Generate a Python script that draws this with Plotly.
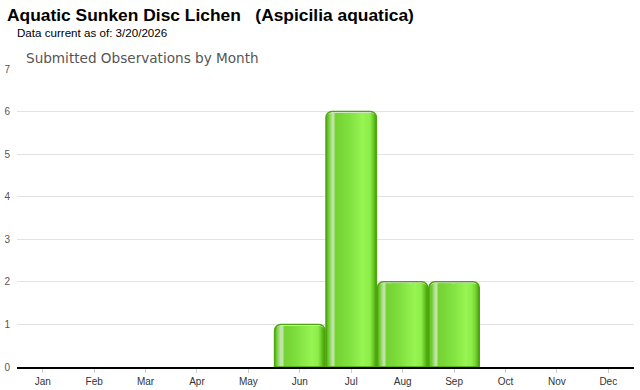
import numpy as np
import plotly.graph_objects as go

months = ["Jan", "Feb", "Mar", "Apr", "May", "Jun", "Jul", "Aug", "Sep", "Oct", "Nov", "Dec"]
counts = [0, 0, 0, 0, 0, 1, 6, 2, 2, 0, 0, 0]
y_ticks = [0, 1, 2, 3, 4, 5, 6, 7]

title_text = "Aquatic Sunken Disc Lichen\u00a0\u00a0\u00a0(Aspicilia aquatica)"
subtitle_text = "Data current as of: 3/20/2026"
chart_label = "Submitted Observations by Month"

# --- styling for the gradient look of the bars ---
W, H = 640, 390
M = dict(l=17, r=6, t=69, b=23)
plot_w = W - M["l"] - M["r"]
plot_h = H - M["t"] - M["b"]
ymax = 7
px_per_unit = plot_h / ymax
bar_w = 0.98
bar_px = plot_w / len(months) * bar_w
radius = 6
border = 1.5

stops = [
    (0.00, (0x52, 0xaf, 0x12)),
    (0.05, (0x6a, 0xcb, 0x28)),
    (0.10, (0xa0, 0xd8, 0x7c)),
    (0.15, (0xc8, 0xe9, 0xb2)),
    (0.20, (0x74, 0xd2, 0x32)),
    (0.45, (0x7f, 0xdf, 0x3e)),
    (0.75, (0x98, 0xf5, 0x53)),
    (0.88, (0x8c, 0xec, 0x48)),
    (0.96, (0x60, 0xbf, 0x1c)),
    (1.00, (0x4c, 0xa5, 0x0e)),
]
sx = np.array([s[0] for s in stops])
sc = np.array([s[1] for s in stops], dtype=float)

def color_at(f):
    r = np.interp(f, sx, sc[:, 0])
    g = np.interp(f, sx, sc[:, 1])
    b = np.interp(f, sx, sc[:, 2])
    return "rgb(%d,%d,%d)" % (round(r), round(g), round(b))

fig = go.Figure()

N = 48
sw = bar_w / N
for i in range(N):
    f = (i + 0.5) / N
    d_px = min(f, 1 - f) * bar_px
    drop_px = border
    if d_px < radius:
        drop_px += radius - np.sqrt(radius ** 2 - (radius - d_px) ** 2)
    drop = drop_px / px_per_unit
    ys = [max(c - drop, 0) if c > 0 else None for c in counts]
    fig.add_trace(go.Bar(
        x=months, y=ys,
        width=sw * 1.15, offset=-bar_w / 2 + i * sw,
        marker=dict(color=color_at(f), line=dict(width=0)),
        hoverinfo="skip", showlegend=False,
    ))

fig.add_trace(go.Bar(
    x=months, y=[c if c > 0 else None for c in counts],
    width=bar_w, offset=-bar_w / 2,
    marker=dict(color="rgba(0,0,0,0)", line=dict(color="#4ea50f", width=border),
                cornerradius=radius),
    showlegend=False, name="Observations",
))

fig.update_layout(
    width=W, height=H,
    margin=M,
    barmode="overlay",
    plot_bgcolor="white", paper_bgcolor="white",
    font=dict(family="Liberation Sans, Arial, sans-serif", color="#333"),
    xaxis=dict(
        type="category", categoryorder="array", categoryarray=months,
        showgrid=False, showline=True, linecolor="#000", linewidth=1.5,
        ticks="outside", ticklen=4, tickcolor="#cccccc",
        tickfont=dict(size=10, color="#333"),
        range=[-0.5, 11.5], automargin=False,
    ),
    yaxis=dict(
        range=[0, ymax], tickvals=y_ticks, showgrid=True, gridcolor="#e3e3e3",
        zeroline=False, showline=False, ticks="",
        tickfont=dict(size=10, color="#555"), automargin=False,
        ticklabelstandoff=6,
    ),
    annotations=[
        dict(text="<b>" + title_text + "</b>", x=5, y=H - 3, xref="paper", yref="paper",
             xanchor="left", yanchor="top", showarrow=False,
             font=dict(size=17.4, color="#000", family="Liberation Sans, Arial, sans-serif")),
        dict(text=subtitle_text, x=15, y=H - 24, xanchor="left", yanchor="top",
             showarrow=False, font=dict(size=11.6, color="#000")),
        dict(text=chart_label, x=24, y=H - 48, xanchor="left", yanchor="top",
             showarrow=False, font=dict(size=13.6, color="#555",
                                         family="DejaVu Sans, sans-serif")),
    ],
)

# convert pixel positions of the header texts into paper coordinates
for a in fig.layout.annotations:
    a.xref = "paper"
    a.yref = "paper"
    a.x = (a.x - M["l"]) / plot_w
    a.y = (a.y - M["b"]) / plot_h

fig.write_html("out.html")
